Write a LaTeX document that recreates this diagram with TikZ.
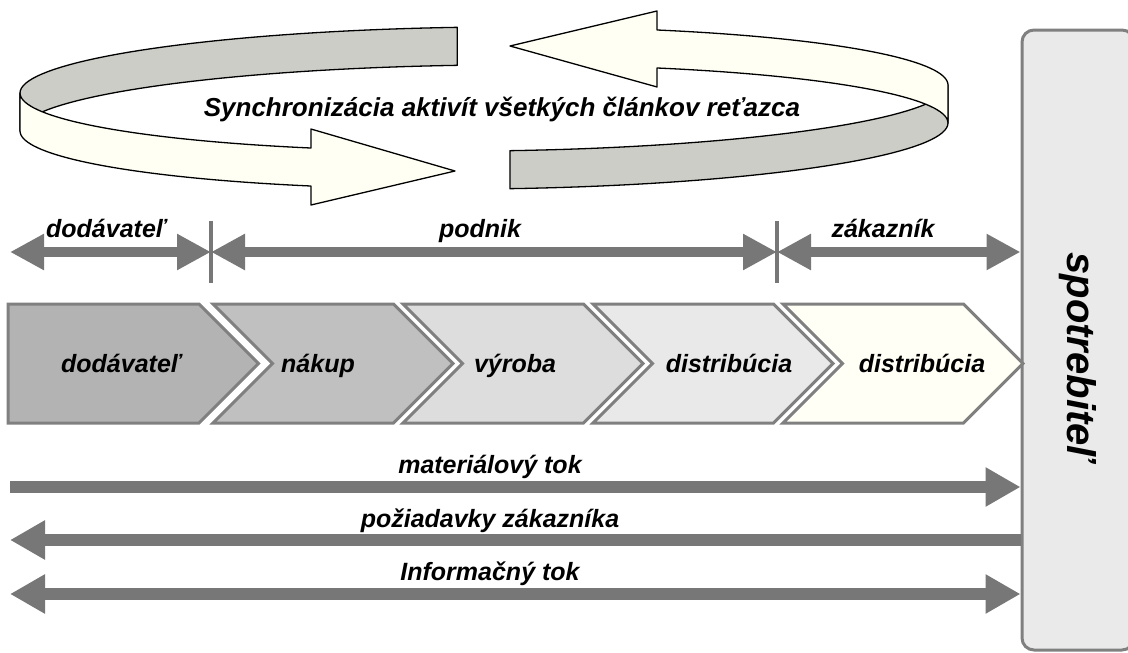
\documentclass[tikz,border=0pt]{standalone}
\usepackage{fontspec}
\setmainfont{Liberation Sans}
\usetikzlibrary{arrows.meta}
\definecolor{flow}{RGB}{119,119,119}
\definecolor{edge}{RGB}{128,128,128}
\definecolor{chA}{RGB}{179,179,179}
\definecolor{chB}{RGB}{192,192,192}
\definecolor{chC}{RGB}{221,221,221}
\definecolor{chD}{RGB}{233,233,233}
\definecolor{chE}{RGB}{255,255,246}
\definecolor{ribgrey}{RGB}{204,205,198}
\definecolor{ribcream}{RGB}{255,255,244}
\definecolor{boxfill}{RGB}{234,234,234}
\begin{document}
\begin{tikzpicture}[x=1pt,y=-1pt,
  lbl/.style={font=\fontsize{25}{30}\selectfont\bfseries\itshape, inner sep=0pt, anchor=base},
  chev/.style={draw=edge, line width=3pt, line join=miter},
  rib/.style={draw=black, line width=1.3pt, line join=round},
  span/.style={draw=flow, line width=10.5pt, {Triangle[length=34pt,width=34pt]}-{Triangle[length=34pt,width=34pt]}},
  tick/.style={draw=flow, line width=3.5pt},
  flowline/.style={draw=flow, line width=12.5pt},
  tipR/.style={-{Triangle[length=35pt,width=37pt]}},
  tipB/.style={{Triangle[length=35pt,width=37pt]}-{Triangle[length=35pt,width=37pt]}},
  declare function={ex(\t)=484+464*cos(\t); ey(\t)=89-4*cos(\t)+62*sin(\t);}]
\useasboundingbox (0,0) rectangle (1128,653);
\clip (0,0) rectangle (1128,653);

% consumer block on the right
\node (cons) [draw=edge, fill=boxfill, line width=3pt, rounded corners=12pt,
  minimum width=112pt, minimum height=620pt, inner sep=0pt] at (1078,340) {};
\node (consl) [font=\fontsize{40}{46}\selectfont\bfseries\itshape, rotate=-90, inner sep=0pt]
  at (1078,357) {spotrebiteľ};

% circular synchronisation ribbon: inner faces first
\filldraw[rib, fill=ribgrey]
  plot[domain=180:266.7, samples=40, variable=\t] ({ex(\t)},{ey(\t)})
  -- plot[domain=266.7:180, samples=40, variable=\t] ({ex(\t)},{ey(\t)+38}) -- cycle;
\filldraw[rib, fill=ribgrey]
  plot[domain=0:86.8, samples=40, variable=\t] ({ex(\t)},{ey(\t)})
  -- plot[domain=86.8:0, samples=40, variable=\t] ({ex(\t)},{ey(\t)+38}) -- cycle;
% outer faces with arrow heads
\filldraw[rib, fill=ribcream]
  plot[domain=180:111.9, samples=40, variable=\t] ({ex(\t)},{ey(\t)})
  -- ({ex(111.9)},{ey(111.9)-19}) -- (455,171) -- ({ex(111.9)},{ey(111.9)+57})
  -- plot[domain=111.9:180, samples=40, variable=\t] ({ex(\t)},{ey(\t)+38}) -- cycle;
\filldraw[rib, fill=ribcream]
  plot[domain=291.9:360, samples=40, variable=\t] ({ex(\t)},{ey(\t)})
  -- plot[domain=360:291.9, samples=40, variable=\t] ({ex(\t)},{ey(\t)+38})
  -- ({ex(291.9)},{ey(291.9)+57}) -- (510,46) -- ({ex(291.9)},{ey(291.9)-19}) -- cycle;
\node (sync) [lbl, font=\fontsize{26}{31}\selectfont\bfseries\itshape] at (502,116)
  {Synchronizácia aktivít všetkých článkov reťazca};

% partner spans
\coordinate (s0) at (10,252);
\coordinate (s1) at (211,252);
\coordinate (s2) at (777,252);
\coordinate (s3) at (cons.west |- s0);
\draw[tick] (211,221) -- (211,283);
\draw[tick] (777,221) -- (777,283);
\draw[span] (s0) -- (s1);
\draw[span] (s1) -- (s2);
\draw[span] (s2) -- (s3);
\node (tsup) [lbl] at (106,237) {dodávateľ};
\node (tent) [lbl] at (480,237) {podnik};
\node (tcus) [lbl] at (883,237) {zákazník};

% process chain
\filldraw[chev, fill=chA] (8,304) -- (199,304) -- (258.5,363.5) -- (199,423) -- (8,423) -- cycle;
\foreach \l/\c in {213/chB, 403/chC, 593/chD, 783/chE}
  \filldraw[chev, fill=\c] (\l,304) -- (\l+180.5,304) -- (\l+240,363.5)
    -- (\l+180.5,423) -- (\l,423) -- (\l+59.5,363.5) -- cycle;
\node (p1) [lbl] at (121,372) {dodávateľ};
\node (p2) [lbl] at (318,372) {nákup};
\node (p3) [lbl] at (515,372) {výroba};
\node (p4) [lbl] at (729,372) {distribúcia};
\node (p5) [lbl] at (922,372) {distribúcia};

% flows
\coordinate (m0) at (10,487);
\coordinate (r0) at (10,540);
\coordinate (i0) at (10,594);
\draw[flowline, tipR] (m0) -- (cons.west |- m0);
\draw[flowline, tipR] (cons.west |- r0) -- (r0);
\draw[flowline, tipB] (i0) -- (cons.west |- i0);
\node (lm) [lbl] at (490,473) {materiálový tok};
\node (lr) [lbl] at (490,527) {požiadavky zákazníka};
\node (li) [lbl] at (490,580) {Informačný tok};
\end{tikzpicture}
\end{document}
